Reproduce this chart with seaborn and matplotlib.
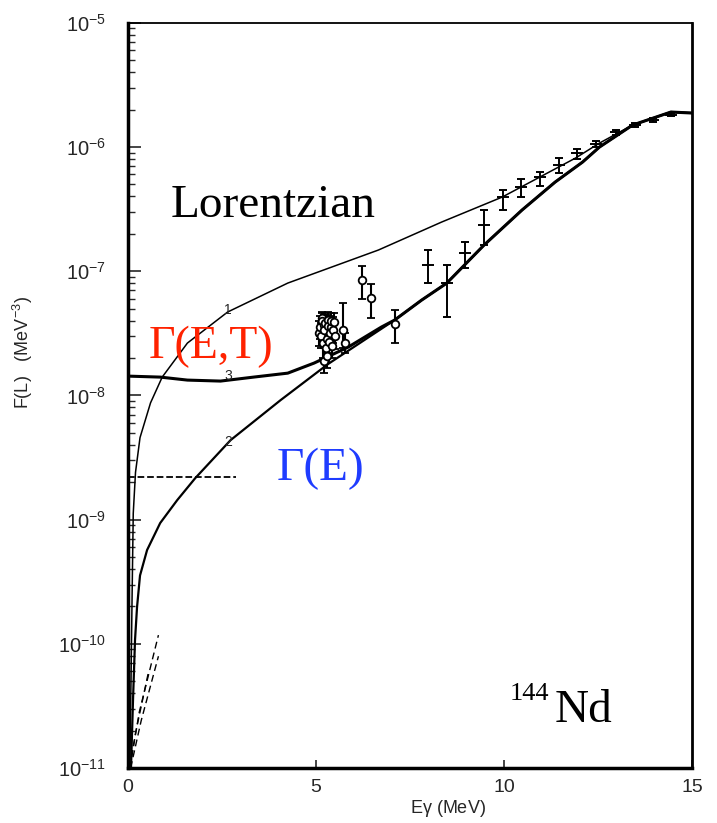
import numpy as np
import pandas as pd
import matplotlib
matplotlib.use("Agg")
import matplotlib.pyplot as plt
import seaborn as sns
from matplotlib.ticker import LogLocator, FixedLocator, NullFormatter

# ---------------- data (log10 of F in MeV^-3) ----------------
c1_E = [0.05, 0.08, 0.11, 0.14, 0.20, 0.32, 0.60, 0.91, 1.58, 2.65, 4.25, 6.66, 8.34, 9.95, 11.90, 12.54, 13.42, 14.44, 15.0]
c1_logF = [-11.0, -10.3, -9.6, -8.95, -8.62, -8.34, -8.06, -7.853, -7.579, -7.329, -7.096, -6.830, -6.605, -6.404, -6.090, -5.969, -5.824, -5.719, -5.727]

c2_E = [0.08, 0.134, 0.187, 0.241, 0.32, 0.508, 0.856, 1.31, 1.79, 2.73, 4.06, 5.32, 7.09, 7.81, 8.48, 9.47, 10.48, 11.36, 12.09, 12.54, 13.42, 14.44, 15.0]
c2_logF = [-11.0, -10.45, -9.97, -9.704, -9.45, -9.245, -9.028, -8.843, -8.666, -8.360, -8.038, -7.748, -7.394, -7.233, -7.096, -6.790, -6.508, -6.283, -6.122, -6.001, -5.824, -5.719, -5.727]

c3_E = [0.0, 0.86, 1.58, 2.46, 3.34, 4.25, 4.95, 5.86, 6.74, 7.09, 7.81, 8.48, 9.47, 10.48, 11.36, 12.09, 12.54, 13.42, 14.44, 15.0]
c3_logF = [-7.845, -7.853, -7.877, -7.885, -7.853, -7.821, -7.740, -7.611, -7.45, -7.394, -7.233, -7.096, -6.790, -6.508, -6.283, -6.122, -6.001, -5.824, -5.719, -5.727]

dash_E = [0.0, 2.86]
dash_logF = [-8.66, -8.66]

low1_E = [0.05, 0.30, 0.81]
low1_logF = [-11.0, -10.55, -9.93]
low2_E = [0.07, 0.35, 0.81]
low2_logF = [-11.0, -10.62, -10.10]
low3_E = [0.04, 0.20, 0.55]
low3_logF = [-11.0, -10.72, -10.22]

# open-circle data (E, log10 F, lower, upper)
circ_E = [5.08, 5.10, 5.13, 5.15, 5.16, 5.19, 5.21, 5.22, 5.25, 5.27, 5.29, 5.31, 5.33, 5.35, 5.37, 5.40, 5.41, 5.43, 5.45, 5.48, 5.50, 5.20, 5.30, 5.72, 5.78, 6.23, 6.47, 7.11]
circ_logF = [-7.50, -7.45, -7.52, -7.38, -7.40, -7.58, -7.43, -7.47, -7.42, -7.62, -7.55, -7.39, -7.44, -7.57, -7.50, -7.45, -7.40, -7.60, -7.47, -7.41, -7.52, -7.72, -7.68, -7.47, -7.58, -7.072, -7.217, -7.426]
circ_lo = [-7.60, -7.55, -7.62, -7.48, -7.50, -7.70, -7.53, -7.58, -7.52, -7.72, -7.66, -7.49, -7.54, -7.67, -7.62, -7.55, -7.50, -7.70, -7.58, -7.51, -7.63, -7.82, -7.78, -7.62, -7.66, -7.225, -7.378, -7.579]
circ_hi = [-7.40, -7.36, -7.42, -7.33, -7.34, -7.48, -7.35, -7.37, -7.34, -7.52, -7.44, -7.33, -7.35, -7.47, -7.40, -7.36, -7.34, -7.50, -7.37, -7.34, -7.42, -7.62, -7.58, -7.26, -7.50, -6.960, -7.104, -7.313]

# dash-marker data
bar_E = [7.99, 8.48, 8.96, 9.47, 9.97, 10.45, 10.96, 11.47, 11.95, 12.46, 12.97, 13.48, 13.96, 14.44]
bar_logF = [-6.953, -7.096, -6.854, -6.629, -6.404, -6.323, -6.243, -6.146, -6.050, -5.976, -5.880, -5.824, -5.783, -5.743]
bar_lo = [-7.096, -7.370, -6.975, -6.790, -6.508, -6.400, -6.315, -6.210, -6.097, -6.000, -5.900, -5.840, -5.800, -5.755]
bar_hi = [-6.830, -6.951, -6.766, -6.508, -6.347, -6.260, -6.202, -6.090, -6.017, -5.950, -5.860, -5.810, -5.770, -5.730]

yticks_exp = [-11, -10, -9, -8, -7, -6, -5]
xticks = [0, 5, 10, 15]

# ---------------- figure ----------------
sns.set_style("ticks")
plt.rcParams["font.family"] = ["Liberation Sans", "DejaVu Sans"]
plt.rcParams["mathtext.default"] = "regular"

fig = plt.figure(figsize=(7.17, 8.23), dpi=100)
ax = fig.add_axes([0.1785, 0.0668, 0.7866, 0.9056])

def pw(v):
    return 10.0 ** np.asarray(v)

def curve(E, L, lw, ls="-"):
    df = pd.DataFrame({"E": E, "F": pw(L)})
    sns.lineplot(data=df, x="E", y="F", ax=ax, color="black", lw=lw, ls=ls,
                 estimator=None, sort=False, legend=False)

curve(c1_E, c1_logF, 1.1)
curve(c2_E, c2_logF, 1.6)
curve(c3_E, c3_logF, 2.2)
curve(dash_E, dash_logF, 1.3, "--")
curve(low1_E, low1_logF, 1.0, (0, (5, 3)))
curve(low2_E, low2_logF, 1.0, (0, (5, 3)))
curve(low3_E, low3_logF, 1.0, (0, (5, 3)))

cF = pw(circ_logF)
ax.errorbar(circ_E, cF, yerr=[cF - pw(circ_lo), pw(circ_hi) - cF], fmt="o",
            mfc="white", mec="black", ms=5.5, mew=1.3, ecolor="black",
            elinewidth=1.5, capsize=3, capthick=1.5, zorder=5)
bF = pw(bar_logF)
ax.errorbar(bar_E, bF, yerr=[bF - pw(bar_lo), pw(bar_hi) - bF], fmt="_",
            color="black", ms=8, mew=1.4, ecolor="black",
            elinewidth=1.4, capsize=3, capthick=1.4, zorder=5)

ax.set_yscale("log")
ax.set_xlim(0, 15)
ax.set_ylim(1e-11, 1e-5)

ax.yaxis.set_major_locator(FixedLocator([10.0 ** e for e in yticks_exp]))
ax.set_yticklabels([r"$10^{%d}$" % e for e in yticks_exp])
ax.yaxis.set_minor_locator(LogLocator(base=10, subs=np.arange(2, 10), numticks=20))
ax.yaxis.set_minor_formatter(NullFormatter())
ax.set_xticks(xticks)
ax.set_xticklabels([str(v) for v in xticks])

ax.tick_params(axis="y", which="major", direction="in", length=9, width=1.2,
               labelsize=14.5, pad=16, right=False)
ax.tick_params(axis="y", which="minor", direction="in", length=5, width=1.0, right=False)
ax.tick_params(axis="x", which="major", direction="in", length=6, width=1.2,
               labelsize=14, pad=8, top=False)

ax.spines["left"].set_linewidth(2.5)
ax.spines["bottom"].set_linewidth(2.5)
ax.spines["right"].set_linewidth(2.0)
ax.spines["top"].set_linewidth(1.3)
for s in ax.spines.values():
    s.set_color("black")

ax.set_xlabel(r"E$\gamma$ (MeV)", fontsize=13)
ax.xaxis.set_label_coords(0.567, -0.040)
ax.set_ylabel(r"F(L)   (MeV$^{-3}$)", fontsize=13)
ax.yaxis.set_label_coords(-0.165, 0.557)

serif = ["Liberation Serif", "DejaVu Serif"]
ax.text(0.075, 0.7396, "Lorentzian", transform=ax.transAxes, fontsize=34,
        family=serif, color="black", ha="left", va="baseline")
ax.text(0.036, 0.5500, "\u0393(E,T)", transform=ax.transAxes, fontsize=33,
        family=serif, color="#ff2200", ha="left", va="baseline")
ax.text(0.264, 0.3866, "\u0393(E)", transform=ax.transAxes, fontsize=34,
        family=serif, color="#1f3cff", ha="left", va="baseline")
ax.text(0.677, 0.0913, "144", transform=ax.transAxes, fontsize=19,
        family=serif, color="black", ha="left", va="baseline")
ax.text(0.757, 0.0617, "Nd", transform=ax.transAxes, fontsize=34,
        family=serif, color="black", ha="left", va="baseline")

for lab, xa, ya in [("1", 0.177, 0.615), ("3", 0.177, 0.526), ("2", 0.177, 0.4376)]:
    ax.text(xa, ya, lab, transform=ax.transAxes, fontsize=10, ha="center", va="center")

fig.savefig("out.png", dpi=100)
